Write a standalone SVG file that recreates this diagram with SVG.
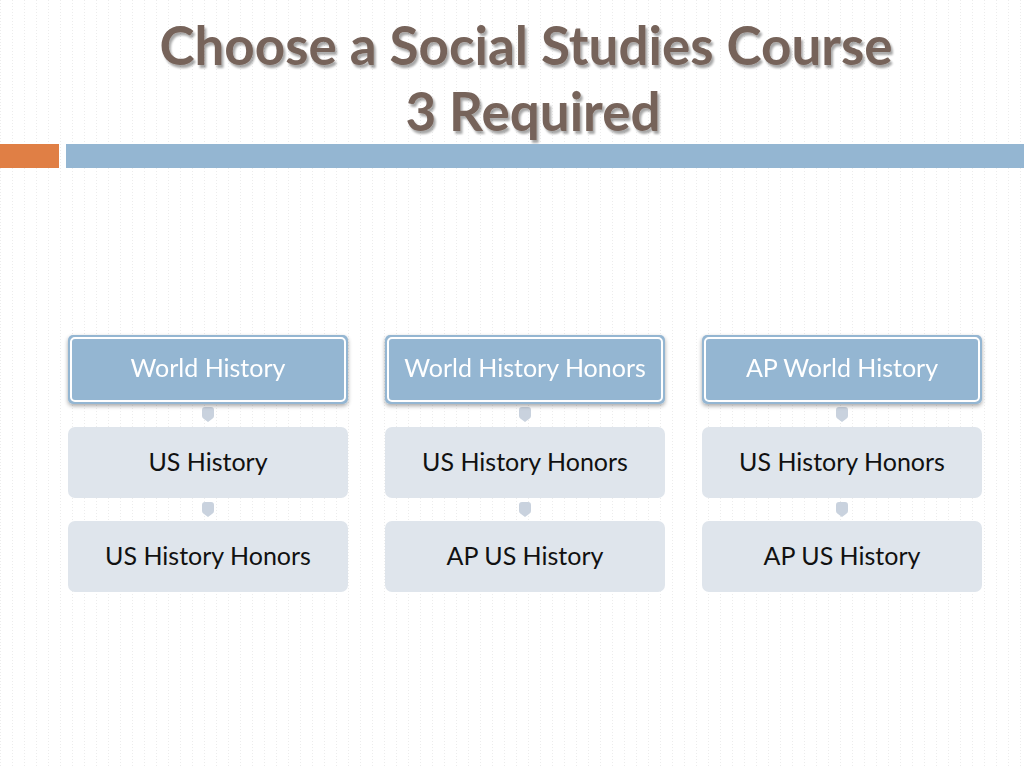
<svg xmlns="http://www.w3.org/2000/svg" width="1024" height="768" viewBox="0 0 1024 768">
<defs>
<pattern id="bg" x="0" y="0" width="12" height="12" patternUnits="userSpaceOnUse">
<rect width="12" height="12" fill="#ffffff"/>
<line x1="0.5" y1="0" x2="0.5" y2="12" stroke="#ececec" stroke-width="1" stroke-dasharray="1,2"/>
</pattern>
<filter id="sh" x="-10%" y="-20%" width="120%" height="150%">
<feGaussianBlur in="SourceAlpha" stdDeviation="2"/>
<feOffset dx="0" dy="2"/>
<feComponentTransfer><feFuncA type="linear" slope="0.35"/></feComponentTransfer>
<feMerge><feMergeNode/><feMergeNode in="SourceGraphic"/></feMerge>
</filter>
<filter id="tsh" x="-5%" y="-20%" width="110%" height="150%">
<feGaussianBlur in="SourceAlpha" stdDeviation="1.2"/>
<feOffset dx="2" dy="3"/>
<feComponentTransfer><feFuncA type="linear" slope="0.35"/></feComponentTransfer>
<feMerge><feMergeNode/><feMergeNode in="SourceGraphic"/></feMerge>
</filter>
<path id="arr" d="M-6,-5 Q-6,-8 -3,-8 L3,-8 Q6,-8 6,-5 L6,1 Q6,3 4,4 L0,7 L-4,4 Q-6,3 -6,1 Z"/>
</defs>
<style>
.title{font-family:"Lato","Liberation Sans",sans-serif;font-weight:bold;font-size:53px;fill:#76635a;text-anchor:middle}
.top rect.o{fill:#94b6d2}
.top rect.i{fill:none;stroke:#ffffff;stroke-width:2}
.top text{fill:#ffffff}
.low rect{fill:#dfe5ec}
.low text{fill:#111111}
text.lbl{font-family:"Lato","Liberation Sans",sans-serif;font-size:25px;text-anchor:middle;dominant-baseline:central}
.conn use{fill:#c9d2de}
</style>
<rect width="1024" height="768" fill="url(#bg)"/>
<g id="title" filter="url(#tsh)">
<text class="title" x="526" y="65">Choose a Social Studies Course</text>
<text class="title" x="533" y="131">3 Required</text>
</g>
<g id="bars">
<rect x="0" y="144" width="59" height="24" fill="#e07f45"/>
<rect x="66" y="144" width="958" height="24" fill="#94b6d2"/>
</g>
<g id="connectors" class="conn">
<use href="#arr" x="208" y="415"/>
<use href="#arr" x="208" y="510"/>
<use href="#arr" x="525" y="415"/>
<use href="#arr" x="525" y="510"/>
<use href="#arr" x="842" y="415"/>
<use href="#arr" x="842" y="510"/>
</g>
<g id="n-world-history" class="top" filter="url(#sh)">
<rect class="o" x="68" y="335" width="280" height="69" rx="5"/>
<rect class="i" x="71" y="338" width="274" height="63" rx="4"/>
<text class="lbl" x="208" y="367">World History</text>
</g>
<g id="n-world-history-honors" class="top" filter="url(#sh)">
<rect class="o" x="385" y="335" width="280" height="69" rx="5"/>
<rect class="i" x="388" y="338" width="274" height="63" rx="4"/>
<text class="lbl" x="525" y="367">World History Honors</text>
</g>
<g id="n-ap-world-history" class="top" filter="url(#sh)">
<rect class="o" x="702" y="335" width="280" height="69" rx="5"/>
<rect class="i" x="705" y="338" width="274" height="63" rx="4"/>
<text class="lbl" x="842" y="367">AP World History</text>
</g>
<g id="n-us-history-1" class="low">
<rect x="68" y="427" width="280" height="71" rx="7"/>
<text class="lbl" x="208" y="461">US History</text>
</g>
<g id="n-us-history-honors-2" class="low">
<rect x="385" y="427" width="280" height="71" rx="7"/>
<text class="lbl" x="525" y="461">US History Honors</text>
</g>
<g id="n-us-history-honors-3" class="low">
<rect x="702" y="427" width="280" height="71" rx="7"/>
<text class="lbl" x="842" y="461">US History Honors</text>
</g>
<g id="n-us-history-honors-1" class="low">
<rect x="68" y="521" width="280" height="71" rx="7"/>
<text class="lbl" x="208" y="555">US History Honors</text>
</g>
<g id="n-ap-us-history-2" class="low">
<rect x="385" y="521" width="280" height="71" rx="7"/>
<text class="lbl" x="525" y="555">AP US History</text>
</g>
<g id="n-ap-us-history-3" class="low">
<rect x="702" y="521" width="280" height="71" rx="7"/>
<text class="lbl" x="842" y="555">AP US History</text>
</g>
</svg>
